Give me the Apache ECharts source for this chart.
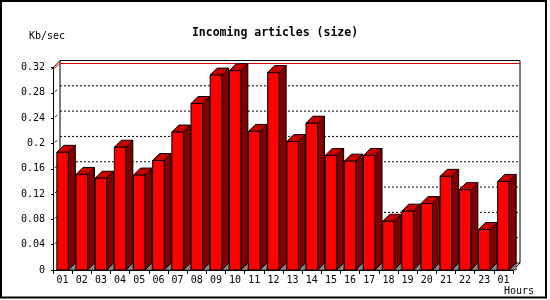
<!DOCTYPE html>
<html>
<head>
<meta charset="utf-8">
<script src="https://cdn.jsdelivr.net/npm/echarts@6/dist/echarts.min.js"></script>
<style>
html,body{margin:0;padding:0;background:#fff;}
#chart{width:550px;height:300px;}
</style>
</head>
<body>
<div id="chart"></div>
<script>
var titleText = 'Incoming articles (size)';
var yUnit = 'Kb/sec';
var xUnit = 'Hours';
var hours = ['01','02','03','04','05','06','07','08','09','10','11','12','13','14','15','16','17','18','19','20','21','22','23','01'];
var sizes = [0.186,0.151,0.145,0.194,0.150,0.173,0.218,0.263,0.308,0.315,0.219,0.312,0.203,0.232,0.181,0.172,0.181,0.077,0.093,0.105,0.148,0.127,0.064,0.140];
var gridValues = [0.04,0.08,0.12,0.16,0.20,0.24,0.28];

var DX = 7, DY = 7;
var MONO = '"DejaVu Sans Mono", "Liberation Mono", monospace';

var chart = echarts.init(document.getElementById('chart'), null, {renderer: 'canvas'});

function wallItem(params, api) {
  var cs = params.coordSys;
  var x0 = cs.x, x1 = cs.x + cs.width, yT = cs.y, yB = cs.y + cs.height;
  var children = [];
  children.push({type: 'rect', shape: {x: x0 + DX, y: yT - DY, width: cs.width, height: cs.height},
    style: {fill: '#fff', stroke: '#000', lineWidth: 1}});
  // left wall top diagonal and right floor diagonal
  children.push({type: 'line', shape: {x1: x0 - 1.5, y1: yT + 2, x2: x0 + DX, y2: yT - DY}, style: {stroke: '#000', lineWidth: 1}});
  children.push({type: 'line', shape: {x1: x0, y1: yT + 2, x2: x0 + DX, y2: yT - DY + 3}, style: {stroke: '#ff0000', lineWidth: 1}});
  children.push({type: 'line', shape: {x1: x1, y1: yB, x2: x1 + DX, y2: yB - DY}, style: {stroke: '#000', lineWidth: 1}});
  // red top line
  children.push({type: 'line', shape: {x1: x0 + DX, y1: yT - DY + 3, x2: x1 + DX, y2: yT - DY + 3},
    style: {stroke: '#e00000', lineWidth: 1}});
  for (var k = 0; k < gridValues.length; k++) {
    var y = api.coord([0, gridValues[k]])[1];
    children.push({type: 'line', shape: {x1: x0 + DX, y1: y - DY, x2: x1 + DX, y2: y - DY},
      style: {stroke: '#000', lineWidth: 1, lineDash: [2, 2]}});
    children.push({type: 'line', shape: {x1: x0 + 2, y1: y - 1, x2: x0 + 4, y2: y - 3},
      style: {stroke: '#000', lineWidth: 1}});
  }
  return {type: 'group', children: children};
}

function barItem(params, api) {
  var idx = api.value(0);
  var v = api.value(1);
  var top = api.coord([idx, v]);
  var base = api.coord([idx, 0]);
  var catW = api.size([1, 0])[0];
  var w = catW * 0.6;
  var xl = top[0] - w / 2, xr = top[0] + w / 2;
  var yt = top[1], y0 = base[1];
  var s = {stroke: '#000', lineWidth: 1};
  return {type: 'group', children: [
    {type: 'polygon', shape: {points: [[xr, y0], [xr + DX, y0 - DY], [xr + DX, y0]]},
      style: {fill: '#8c8c8c', stroke: '#000', lineWidth: 0.6}},
    {type: 'polygon', shape: {points: [[xr, yt], [xr + DX, yt - DY], [xr + DX, y0 - DY], [xr, y0]]},
      style: Object.assign({fill: '#800000'}, s)},
    {type: 'polygon', shape: {points: [[xl, yt], [xl + DX, yt - DY], [xr + DX, yt - DY], [xr, yt]]},
      style: Object.assign({fill: '#c80000'}, s)},
    {type: 'rect', shape: {x: xl, y: yt, width: w, height: y0 - yt},
      style: Object.assign({fill: '#ff0000'}, s)}
  ]};
}

var option = {
  animation: false,
  backgroundColor: '#fff',
  title: {
    text: titleText, left: 'center', top: 22,
    textStyle: {fontFamily: MONO, fontWeight: 'bold', fontSize: 11.5, color: '#000'}
  },
  grid: {left: 53, right: 37, top: 67.5, bottom: 30, containLabel: false},
  xAxis: {
    type: 'category', data: hours,
    axisLine: {lineStyle: {color: '#000', width: 1}},
    axisTick: {show: true, length: 4, lineStyle: {color: '#000'}},
    axisLabel: {fontFamily: MONO, fontSize: 10, color: '#000', margin: 5, interval: 0},
    splitLine: {show: false}
  },
  yAxis: {
    type: 'value', min: 0, max: 0.32, interval: 0.04,
    axisLine: {show: true, lineStyle: {color: '#000', width: 1}},
    axisTick: {show: true, length: 2, lineStyle: {color: '#000'}},
    axisLabel: {fontFamily: MONO, fontSize: 10, color: '#000', margin: 8},
    splitLine: {show: false}
  },
  graphic: [
    {type: 'rect', shape: {x: 1, y: 1, width: 545, height: 296.5}, style: {fill: 'none', stroke: '#000', lineWidth: 2}, z: 100},
    {type: 'text', x: 29, y: 31, style: {text: yUnit, font: '10px ' + MONO, fill: '#000', textVerticalAlign: 'top'}},
    {type: 'text', x: 504, y: 286, style: {text: xUnit, font: '10px ' + MONO, fill: '#000', textVerticalAlign: 'top'}}
  ],
  series: [
    {type: 'custom', z: 1, clip: false, renderItem: wallItem, data: [[0, 0]], encode: {x: 0, y: 1}, silent: true},
    {type: 'custom', z: 3, clip: false, renderItem: barItem,
      data: sizes.map(function (v, i) { return [i, v]; }), encode: {x: 0, y: 1}}
  ]
};
chart.setOption(option);
</script>
</body>
</html>
